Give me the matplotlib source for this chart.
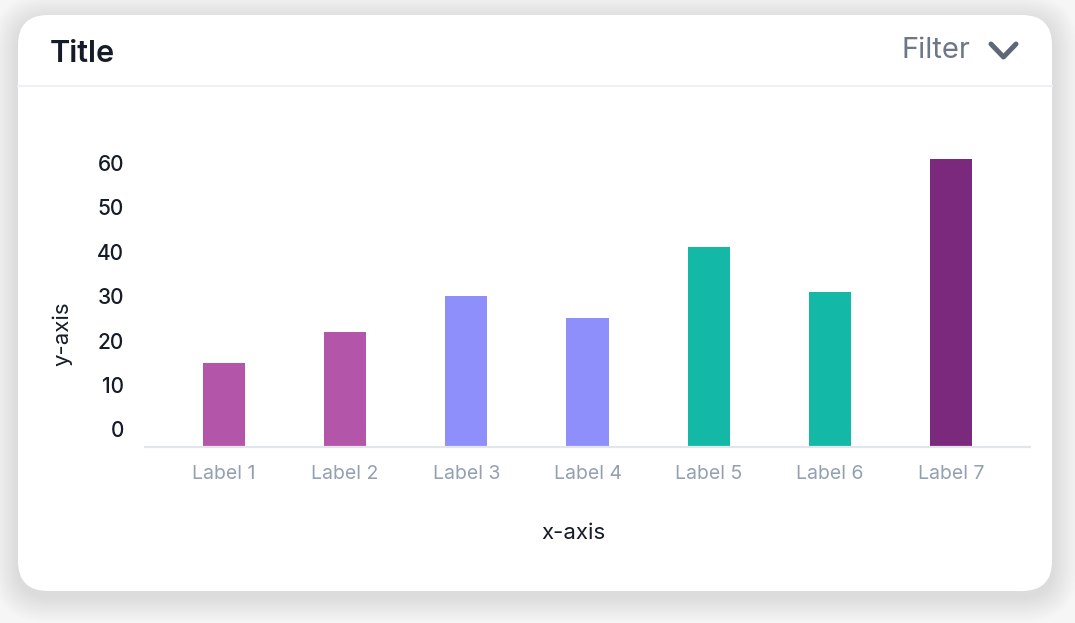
import matplotlib
matplotlib.use("Agg")
import matplotlib.pyplot as plt
import matplotlib.transforms as mtransforms
from matplotlib.patches import FancyBboxPatch
from matplotlib.lines import Line2D

plt.rcParams['font.family'] = ['Inter', 'DejaVu Sans']

# data
labels = ['Label 1', 'Label 2', 'Label 3', 'Label 4', 'Label 5', 'Label 6', 'Label 7']
values = [15, 22, 30, 25, 41, 31, 61]
colors = ['#b356a9', '#b356a9', '#8f8ffb', '#8f8ffb', '#14b8a6', '#14b8a6', '#7a297d']
yticks = [0, 10, 20, 30, 40, 50, 60]

W, H = 1075, 623
fig = plt.figure(figsize=(W / 100, H / 100), dpi=100)
fig.patch.set_facecolor('#f6f6f6')
px = mtransforms.IdentityTransform()

# card with soft shadow
cx0, cy0, cx1, cy1 = 18, 15, 1052, 591
for i in range(26, 0, -2):
    sh = FancyBboxPatch((cx0 - i, H - cy1 - 5 - i), (cx1 - cx0) + 2 * i, (cy1 - cy0) + 2 * i,
                        boxstyle="round,pad=0,rounding_size=%d" % (30 + i),
                        transform=px, facecolor='#000000', edgecolor='none',
                        alpha=0.006, zorder=-3)
    fig.add_artist(sh)
card = FancyBboxPatch((cx0, H - cy1), cx1 - cx0, cy1 - cy0,
                      boxstyle="round,pad=0,rounding_size=30",
                      transform=px, facecolor='white', edgecolor='none', zorder=-1)
fig.add_artist(card)

# header
fig.add_artist(Line2D([cx0, cx1], [H - 86, H - 86], transform=px, color='#edf1f5', lw=1.5, zorder=2))
fig.text(50 / W, 1 - 54 / H, 'Title', fontsize=22, fontweight='semibold', color='#151b28',
         ha='left', va='center')
fig.text(970 / W, 1 - 50 / H, 'Filter', fontsize=21, color='#6e7787', ha='right', va='center')
fig.add_artist(Line2D([991, 1003.5, 1016], [H - 44, H - 57, H - 44], transform=px,
                      color='#5f6878', lw=3.6, solid_capstyle='round', solid_joinstyle='round'))

# chart
ax = fig.add_axes([145 / W, 1 - 447 / H, 885 / W, (447 - 140) / H])
ax.set_facecolor('none')
ymin = -4
x = range(len(labels))
ax.bar(x, [v - ymin for v in values], bottom=ymin, width=0.35, color=colors)
ax.set_xlim(-0.65, len(labels) - 0.35)
ax.set_ylim(ymin, 65.2)
ax.set_xticks(list(x))
ax.set_xticklabels(labels, fontsize=14, color='#94a0b1')
ax.set_yticks(yticks)
ax.set_yticklabels([str(t) for t in yticks], fontsize=15, color='#151b28', fontweight='medium')
ax.tick_params(axis='both', length=0)
ax.tick_params(axis='y', pad=15)
ax.tick_params(axis='x', pad=13)
for s in ['top', 'right', 'left']:
    ax.spines[s].set_visible(False)
ax.spines['bottom'].set_color('#e2e5ea')
ax.spines['bottom'].set_linewidth(1.6)

fig.text(573 / W, 1 - 533 / H, 'x-axis', fontsize=16, color='#151b28', ha='center', va='center')
fig.text(62 / W, 1 - 334 / H, 'y-axis', fontsize=16, color='#151b28', ha='center', va='center',
         rotation=90)

fig.savefig('out.png', dpi=100, facecolor=fig.get_facecolor())
